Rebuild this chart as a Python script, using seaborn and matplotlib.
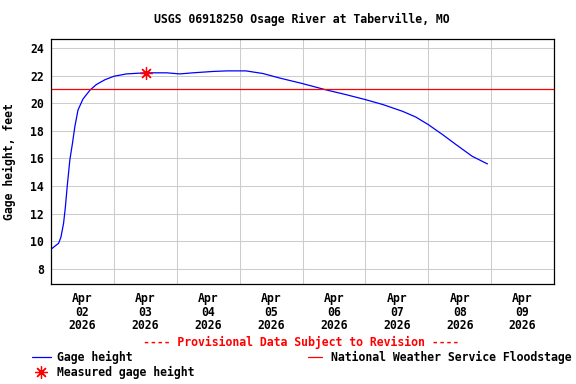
import pandas as pd
import matplotlib
matplotlib.use('Agg')
import matplotlib.pyplot as plt
import matplotlib.dates as mdates
from matplotlib.lines import Line2D
import seaborn as sns

# data (hours after Apr 02 2026 00:00)
gage_hours = [0, 2.9, 3.8, 4.8, 5.5, 6.2, 7.2, 8.2, 9.1, 10.3, 12.2, 14.9, 17.3, 20.6,
              24, 28.8, 36, 44.2, 49.2, 54.2, 61.9, 67.2, 74.4, 80.9, 87.1, 96, 105.1,
              112.6, 120, 126.7, 134.2, 139.2, 144, 149.5, 154.6, 160.8, 166.6]
gage_ft = [9.42, 9.85, 10.3, 11.3, 12.5, 14.0, 15.9, 17.1, 18.3, 19.5, 20.3, 20.95, 21.35, 21.7,
           21.95, 22.12, 22.2, 22.2, 22.12, 22.2, 22.3, 22.34, 22.34, 22.15, 21.83, 21.42, 20.96,
           20.62, 20.26, 19.9, 19.41, 19.0, 18.45, 17.72, 17.0, 16.15, 15.6]
measured_hours = [36.2]
measured_ft = [22.2]
floodstage_ft = 21

start = pd.Timestamp('2026-04-02')
end = pd.Timestamp('2026-04-10')
gage_time = start + pd.to_timedelta(gage_hours, unit='h')
meas_time = start + pd.to_timedelta(measured_hours, unit='h')

sns.set_style('white')
plt.rcParams['font.family'] = ['DejaVu Sans Mono']
plt.rcParams['font.weight'] = 'bold'
plt.rcParams['text.color'] = 'black'
plt.rcParams['xtick.color'] = 'black'
plt.rcParams['ytick.color'] = 'black'
plt.rcParams['axes.labelcolor'] = 'black'
fs = 8.3

fig = plt.figure(figsize=(5.76, 3.84), dpi=100)
ax = fig.add_axes([51/576, 1-284/384, 503/576, 245/384])

sns.lineplot(x=gage_time, y=gage_ft, color='blue', linewidth=0.9, ax=ax)
ax.axhline(floodstage_ft, color='red', linewidth=0.9)
ax.plot(meas_time, measured_ft, linestyle='none', marker=(8, 2, 0), markersize=9,
        color='red', markeredgewidth=0.9)

ax.set_xlim(start, end)
ax.set_ylim(6.9, 24.65)
ax.set_yticks(range(8, 25, 2))
ax.xaxis.set_major_locator(mdates.HourLocator(byhour=12))
ax.xaxis.set_major_formatter(mdates.DateFormatter('%b\n%d\n%Y'))
ax.xaxis.set_minor_locator(mdates.DayLocator())
ax.grid(which='minor', axis='x', color='#cccccc', linewidth=0.75)
ax.grid(which='major', axis='y', color='#cccccc', linewidth=0.75)
ax.set_axisbelow(True)
ax.tick_params(axis='both', which='both', length=0, labelsize=fs)
ax.tick_params(axis='y', pad=5)
ax.tick_params(axis='x', pad=6)
for t in ax.get_xticklabels():
    t.set_linespacing(1.05)
for sp in ax.spines.values():
    sp.set_color('black')
    sp.set_linewidth(0.9)
ax.set_xlabel('')
ax.set_ylabel('Gage height, feet', fontsize=fs, fontweight='bold')
ax.yaxis.set_label_coords(-35/503, 0.5)

fig.text(302/576, 1-19/384, 'USGS 06918250 Osage River at Taberville, MO', ha='center', va='center',
         fontsize=fs, fontweight='bold')
fig.text(301/576, 1-342/384, '---- Provisional Data Subject to Revision ----', ha='center', va='center',
         fontsize=fs, fontweight='bold', color='red')

# legend: two left rows, floodstage to the right
h_gage = Line2D([], [], color='blue', linewidth=0.9)
h_meas = Line2D([], [], linestyle='none', marker=(8, 2, 0), markersize=9, color='red', markeredgewidth=0.9)
h_flood = Line2D([], [], color='red', linewidth=0.9)
fig.legend([h_gage, h_meas], ['Gage height', 'Measured gage height'], loc='upper left',
           bbox_to_anchor=(32/576, 1-351/384), frameon=False, fontsize=fs, borderpad=0,
           borderaxespad=0, handlelength=1.64, handletextpad=0.5, labelspacing=0.2)
fig.legend([h_flood], ['National Weather Service Floodstage'], loc='upper left',
           bbox_to_anchor=(308/576, 1-351/384), frameon=False, fontsize=fs, borderpad=0,
           borderaxespad=0, handlelength=1.2, handletextpad=0.8)

fig.savefig('out.png', dpi=100)
